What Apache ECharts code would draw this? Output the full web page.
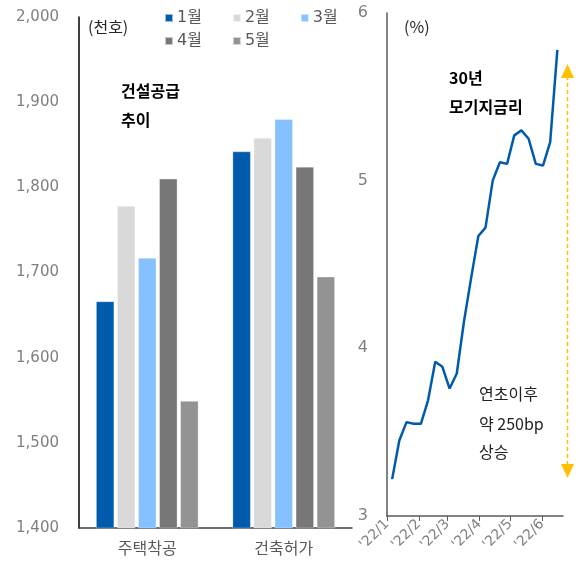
<!DOCTYPE html>
<html>
<head>
<meta charset="utf-8">
<script src="https://cdn.jsdelivr.net/npm/echarts@6/dist/echarts.min.js"></script>
<style>
  html, body { margin: 0; padding: 0; background: #fff; }
  #main { width: 580px; height: 563px; }
</style>
</head>
<body>
<div id="main"></div>
<script>
var FONT = "'Noto Sans CJK KR', 'Liberation Sans', sans-serif";
var NUMFONT = "'DejaVu Sans', 'Noto Sans CJK KR', sans-serif";

// 건설공급 추이 (천호)
var categories = ['주택착공', '건축허가'];
var months = ['1월', '2월', '3월', '4월', '5월'];
var housingStarts = [1666, 1778, 1717, 1810, 1549];
var buildingPermits = [1842, 1858, 1880, 1824, 1695];
var barColors = ['#005BAC', '#D9D9D9', '#85C1FF', '#777777', '#939393'];

// 30년 모기지금리 (%), 주간
var rateDates = ['2022-01-06', '2022-01-13', '2022-01-20', '2022-01-27', '2022-02-03', '2022-02-10',
  '2022-02-17', '2022-02-24', '2022-03-03', '2022-03-10', '2022-03-17', '2022-03-24', '2022-03-31',
  '2022-04-07', '2022-04-14', '2022-04-21', '2022-04-28', '2022-05-05', '2022-05-12', '2022-05-19',
  '2022-05-26', '2022-06-02', '2022-06-09', '2022-06-16'];
var rateValues = [3.22, 3.45, 3.56, 3.55, 3.55, 3.69, 3.92, 3.89, 3.76, 3.85, 4.16, 4.42, 4.67,
  4.72, 5.00, 5.11, 5.10, 5.27, 5.30, 5.25, 5.10, 5.09, 5.23, 5.78];
var tickDates = ['2022-01-01', '2022-02-01', '2022-03-01', '2022-04-01', '2022-05-01', '2022-06-01'];
var tickLabels = ["'22/1", "'22/2", "'22/3", "'22/4", "'22/5", "'22/6"];

function dayOf(s) {
  var p = s.split('-');
  return (Date.UTC(+p[0], +p[1] - 1, +p[2]) - Date.UTC(2022, 0, 1)) / 864e5;
}
var tickDays = tickDates.map(dayOf);
var rateData = rateDates.map(function (d, i) { return [dayOf(d), rateValues[i]]; });

var barSeries = months.map(function (m, i) {
  return {
    name: m,
    type: 'bar',
    xAxisIndex: 0,
    yAxisIndex: 0,
    barWidth: 18,
    barGap: '17%',
    itemStyle: { color: barColors[i], borderColor: 'rgba(255,255,255,0.6)', borderWidth: 0.5 },
    data: [housingStarts[i], buildingPermits[i]]
  };
});

var legendText = { fontSize: 16, color: '#595959', fontFamily: NUMFONT, padding: [0, 0, 0, -1] };

var myChart = echarts.init(document.getElementById('main'));
var option = {
  animation: false,
  textStyle: { fontFamily: FONT },
  legend: [{
    data: months.slice(0, 3),
    left: 159, top: 5,
    itemWidth: 8, itemHeight: 8, itemGap: 30,
    icon: 'rect',
    textStyle: legendText
  }, {
    data: months.slice(3),
    left: 159, top: 28,
    itemWidth: 8, itemHeight: 8, itemGap: 30,
    icon: 'rect',
    textStyle: legendText
  }],
  grid: [
    { left: 79, right: 228, top: 17, bottom: 35 },
    { left: 387, right: 17, top: 13, bottom: 47 }
  ],
  xAxis: [{
    type: 'category',
    gridIndex: 0,
    data: categories,
    axisLine: { lineStyle: { color: '#404040', width: 1.5 } },
    axisTick: { show: false },
    axisLabel: { fontSize: 16, color: '#595959', margin: 12, fontFamily: FONT }
  }, {
    type: 'value',
    gridIndex: 1,
    min: 0,
    max: 171.5,
    splitLine: { show: false },
    axisLine: { lineStyle: { color: '#595959', width: 1.5 } },
    axisTick: { show: true, customValues: tickDays, length: 5, lineStyle: { color: '#595959' } },
    axisLabel: {
      customValues: tickDays,
      rotate: 45,
      fontSize: 14,
      color: '#7F7F7F',
      margin: 6,
      fontFamily: NUMFONT,
      formatter: function (v) {
        var i = tickDays.indexOf(v);
        return i >= 0 ? tickLabels[i] : '';
      }
    }
  }],
  yAxis: [{
    type: 'value',
    gridIndex: 0,
    min: 1400,
    max: 2000,
    interval: 100,
    splitLine: { show: false },
    axisLine: { show: true, lineStyle: { color: '#000', width: 1.5 } },
    axisTick: { show: false },
    axisLabel: {
      fontSize: 15, color: '#7F7F7F', margin: 20, fontFamily: NUMFONT,
      formatter: function (v) { return v.toLocaleString('en-US'); }
    }
  }, {
    type: 'value',
    gridIndex: 1,
    min: 3,
    max: 6,
    interval: 1,
    splitLine: { show: false },
    axisLine: { show: true, lineStyle: { color: '#595959', width: 1.5 } },
    axisTick: { show: false },
    axisLabel: { fontSize: 16, color: '#7F7F7F', margin: 19, fontFamily: NUMFONT }
  }],
  series: barSeries.concat([{
    name: '30년 모기지금리',
    type: 'line',
    xAxisIndex: 1,
    yAxisIndex: 1,
    showSymbol: false,
    lineStyle: { color: '#005BAC', width: 2.5 },
    data: rateData
  }]),
  graphic: [
    { type: 'text', left: 88, top: 19, style: { text: '(천호)', font: '16px ' + FONT, fill: '#262626' } },
    { type: 'text', left: 121, top: 83, style: { text: '건설공급', font: 'bold 16px ' + FONT, fill: '#000' } },
    { type: 'text', left: 121, top: 112, style: { text: '추이', font: 'bold 16px ' + FONT, fill: '#000' } },
    { type: 'text', left: 404, top: 19, style: { text: '(%)', font: '16px ' + FONT, fill: '#262626' } },
    { type: 'text', left: 449, top: 70, style: { text: '30년', font: 'bold 16px ' + FONT, fill: '#000' } },
    { type: 'text', left: 449, top: 99, style: { text: '모기지금리', font: 'bold 16px ' + FONT, fill: '#000' } },
    { type: 'text', left: 479, top: 386, style: { text: '연초이후', font: '16px ' + FONT, fill: '#222' } },
    { type: 'text', left: 479, top: 416, style: { text: '약 250bp', font: '16px ' + FONT, fill: '#222' } },
    { type: 'text', left: 479, top: 444, style: { text: '상승', font: '16px ' + FONT, fill: '#222' } },
    { type: 'line', shape: { x1: 567.5, y1: 76, x2: 567.5, y2: 466 },
      style: { stroke: '#FFC000', lineWidth: 1.5, lineDash: [4, 3] } },
    { type: 'polygon', shape: { points: [[567.5, 64], [561, 78], [574, 78]] }, style: { fill: '#FFC000' } },
    { type: 'polygon', shape: { points: [[567.5, 478], [561, 464], [574, 464]] }, style: { fill: '#FFC000' } }
  ]
};
myChart.setOption(option);
</script>
</body>
</html>
